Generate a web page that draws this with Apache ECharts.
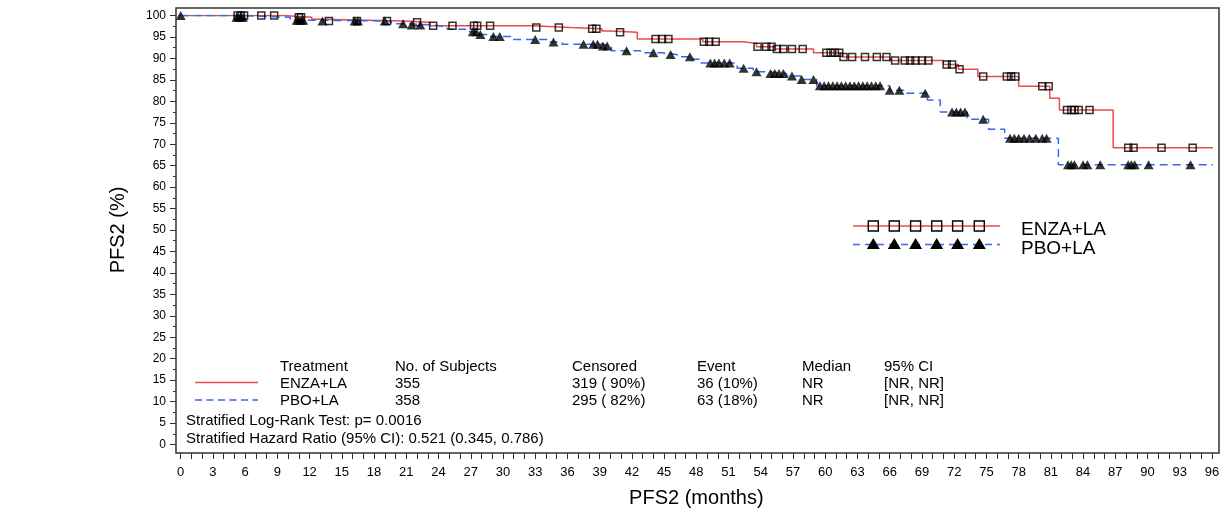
<!DOCTYPE html>
<html>
<head>
<meta charset="utf-8">
<script src="https://cdn.jsdelivr.net/npm/echarts@6/dist/echarts.min.js"></script>
<style>
html,body{margin:0;padding:0;background:#fff;}
#c{width:1226px;height:510px;}
</style>
</head>
<body>
<div id="c"></div>
<script>
// ---- data ----
var enzaTimes = [0, 9.5, 12.2, 13.0, 20.7, 23.2, 32.7, 36.3, 39.2, 40.0, 42.5, 48.6, 52.4, 53.6, 55.3, 58.9, 61.6, 66.0, 71.0, 72.4, 74.2, 78.0, 80.9, 81.8, 86.8, 96.3];
var enzaSurv  = [100, 99.6, 99.1, 98.7, 98.4, 97.6, 97.2, 96.9, 96.4, 96.1, 94.5, 93.9, 93.5, 92.7, 92.2, 91.3, 90.3, 89.5, 88.6, 87.5, 85.8, 83.5, 80.7, 78.0, 69.2, 69.2];
var enzaCensor = [5.3, 5.6, 5.9, 7.5, 8.7, 11.0, 11.2, 13.8, 16.4, 19.2, 22.0, 23.5, 25.3, 27.3, 27.6, 28.8, 33.1, 35.2, 38.3, 38.7, 40.9, 44.2, 44.8, 45.4, 48.7, 49.2, 49.8, 53.7, 54.5, 55.0, 55.5, 56.1, 56.9, 57.9, 60.1, 60.5, 60.9, 61.3, 61.7, 62.5, 63.7, 64.8, 65.7, 66.5, 67.4, 67.9, 68.4, 69.0, 69.6, 71.3, 71.8, 72.5, 74.7, 76.9, 77.3, 77.7, 80.2, 80.8, 82.5, 82.9, 83.2, 83.6, 84.6, 88.2, 88.7, 91.3, 94.2];

var pboTimes = [0, 5.0, 10.2, 12.6, 19.6, 20.9, 23.5, 24.8, 26.5, 27.6, 28.5, 30.7, 34.1, 35.5, 39.2, 40.1, 42.8, 44.8, 46.2, 47.7, 48.4, 51.8, 53.3, 54.6, 56.4, 57.7, 59.2, 66.0, 67.3, 69.5, 70.7, 73.2, 75.2, 76.7, 81.7, 96.3];
var pboSurv  = [100, 99.6, 98.9, 98.7, 98.1, 97.8, 97.4, 96.8, 96.2, 95.6, 95.1, 94.4, 93.8, 93.3, 92.9, 91.8, 91.3, 90.9, 90.4, 89.8, 88.9, 87.7, 86.9, 86.5, 85.9, 85.1, 83.6, 82.6, 81.9, 80.3, 77.5, 75.8, 73.5, 71.4, 65.2, 65.2];
var pboCensor = [0, 5.2, 5.4, 5.6, 5.8, 10.8, 11.0, 11.2, 11.4, 13.2, 16.2, 16.5, 19.0, 20.7, 21.5, 22.3, 27.2, 27.5, 27.9, 29.1, 29.7, 33.0, 34.7, 37.5, 38.4, 38.8, 39.3, 39.7, 41.5, 44.0, 45.6, 47.4, 49.3, 49.7, 50.1, 50.6, 51.1, 52.4, 53.6, 54.9, 55.3, 55.7, 56.1, 56.9, 57.8, 58.9, 59.5, 59.9, 60.3, 60.7, 61.1, 61.5, 61.9, 62.3, 62.7, 63.1, 63.5, 63.9, 64.3, 64.7, 65.1, 66.0, 66.9, 69.3, 71.8, 72.2, 72.6, 73.0, 74.7, 77.2, 77.6, 78.0, 78.5, 79.0, 79.6, 80.2, 80.6, 82.6, 82.9, 83.2, 84.0, 84.4, 85.6, 88.2, 88.5, 88.8, 90.1, 94.0];

var seriesNames = ['ENZA+LA', 'PBO+LA'];
var referenceLevel = 50;
var xTickLabelStep = 3;

var tableHeaders = ['Treatment', 'No. of Subjects', 'Censored', 'Event', 'Median', '95% CI'];
var tableRowEnza = ['ENZA+LA', '355', '319 ( 90%)', '36 (10%)', 'NR', '[NR, NR]'];
var tableRowPbo  = ['PBO+LA', '358', '295 ( 82%)', '63 (18%)', 'NR', '[NR, NR]'];
var statLines = ['Stratified Log-Rank Test: p= 0.0016', 'Stratified Hazard Ratio (95% CI): 0.521 (0.345, 0.786)'];

// ---- helpers ----
function survAt(times, surv, t) {
  var v = surv[0];
  for (var i = 0; i < times.length; i++) { if (times[i] <= t) v = surv[i]; }
  return v;
}
function pairs(a, b) { return a.map(function (x, i) { return [x, b[i]]; }); }
function censorPts(c, times, surv) { return c.map(function (t) { return [t, survAt(times, surv, t)]; }); }

var RED = '#EC4B4B', BLUE = '#3468F2';
var FONT = '"Liberation Sans", Arial, sans-serif';

// ---- layout (pixels) ----
var G = { left: 180.7, right: 1212, top: 15.5, bottom: 444.5 };
var graphics = [];
graphics.push({ type: 'rect', shape: { x: 176, y: 8, width: 1043, height: 445 }, style: { fill: 'none', stroke: '#333', lineWidth: 1.5 }, z: 50 });

// legend (inside plot)
var lgX = [873.3, 894.3, 915.6, 936.7, 957.6, 979.3];
graphics.push({ type: 'line', shape: { x1: 853, y1: 226, x2: 1000, y2: 226 }, style: { stroke: RED, lineWidth: 1.5 }, z: 60 });
graphics.push({ type: 'line', shape: { x1: 853, y1: 244.5, x2: 1000, y2: 244.5 }, style: { stroke: BLUE, lineWidth: 1.5, lineDash: [7, 5] }, z: 60 });
lgX.forEach(function (x) {
  graphics.push({ type: 'rect', shape: { x: x - 5, y: 221, width: 10, height: 10 }, style: { fill: 'none', stroke: '#000', lineWidth: 1.4 }, z: 61 });
  graphics.push({ type: 'polygon', shape: { points: [[x, 238], [x + 6.5, 249], [x - 6.5, 249]] }, style: { fill: '#000' }, z: 61 });
});
graphics.push({ type: 'text', style: { text: seriesNames[0], x: 1021, y: 229.5, font: '19px ' + FONT, fill: '#000', verticalAlign: 'middle' }, z: 61 });
graphics.push({ type: 'text', style: { text: seriesNames[1], x: 1021, y: 248.5, font: '19px ' + FONT, fill: '#000', verticalAlign: 'middle' }, z: 61 });

// table
var colX = [280, 395, 572, 697, 802, 884];
var rowY = [367, 384, 401];
[tableHeaders, tableRowEnza, tableRowPbo].forEach(function (row, r) {
  row.forEach(function (txt, c) {
    graphics.push({ type: 'text', style: { text: txt, x: colX[c], y: rowY[r], font: '15px ' + FONT, fill: '#000', verticalAlign: 'middle' }, z: 61 });
  });
});
graphics.push({ type: 'line', shape: { x1: 195, y1: 382.5, x2: 258, y2: 382.5 }, style: { stroke: RED, lineWidth: 1.5 }, z: 60 });
graphics.push({ type: 'line', shape: { x1: 195, y1: 400, x2: 258, y2: 400 }, style: { stroke: BLUE, lineWidth: 1.5, lineDash: [7, 4.5] }, z: 60 });
statLines.forEach(function (txt, i) {
  graphics.push({ type: 'text', style: { text: txt, x: 186, y: 421 + i * 17.5, font: '15px ' + FONT, fill: '#000', verticalAlign: 'middle' }, z: 61 });
});

var chart = echarts.init(document.getElementById('c'), null, { renderer: 'canvas' });
chart.setOption({
  animation: false,
  backgroundColor: '#fff',
  grid: { left: G.left, right: 1226 - G.right, top: G.top, bottom: 510 - G.bottom, containLabel: false, outerBoundsMode: 'none' },
  xAxis: {
    type: 'value', min: 0, max: 96, interval: 1, offset: 8.5,
    axisLine: { show: false, onZero: false },
    axisTick: { show: true, inside: false, length: 6, lineStyle: { color: '#333', width: 1 } },
    axisLabel: { fontSize: 13, fontFamily: FONT, color: '#000', margin: 13,
      formatter: function (v) { return (Math.round(v) % xTickLabelStep === 0) ? String(Math.round(v)) : ''; } },
    splitLine: { show: false },
    name: 'PFS2 (months)', nameLocation: 'middle', nameGap: 35,
    nameTextStyle: { fontSize: 20, fontFamily: FONT, color: '#000' }
  },
  yAxis: {
    type: 'value', min: 0, max: 100, interval: 5, offset: 4.7,
    axisLine: { show: false, onZero: false },
    axisTick: { show: true, inside: false, length: 6, lineStyle: { color: '#333', width: 1 } },
    minorTick: { show: true, splitNumber: 2, length: 3, lineStyle: { color: '#333', width: 1 } },
    axisLabel: { fontSize: 12, fontFamily: FONT, color: '#000', margin: 10 },
    splitLine: { show: false },
    name: 'PFS2 (%)', nameLocation: 'middle', nameGap: 48, nameRotate: 90,
    nameTextStyle: { fontSize: 20, fontFamily: FONT, color: '#000' }
  },
  series: [
    { name: seriesNames[0], type: 'line', step: 'end', data: pairs(enzaTimes, enzaSurv), showSymbol: false, symbol: 'none',
      lineStyle: { color: RED, width: 1.5 }, z: 3,
      markLine: { silent: true, symbol: 'none', label: { show: false },
        lineStyle: { color: '#808080', width: 1, type: [14, 5, 3, 5] },
        data: [[{ coord: [-0.4, referenceLevel] }, { coord: [96.6, referenceLevel] }]] } },
    { name: seriesNames[1], type: 'line', step: 'end', data: pairs(pboTimes, pboSurv), showSymbol: false, symbol: 'none',
      lineStyle: { color: BLUE, width: 1.5, type: [8, 5] }, z: 3 },
    { name: seriesNames[0] + ' censored', type: 'scatter', data: censorPts(enzaCensor, enzaTimes, enzaSurv),
      symbol: 'rect', symbolSize: [7, 7], itemStyle: { color: 'rgba(255,255,255,0)', borderColor: '#000', borderWidth: 1.5 }, z: 5 },
    { name: seriesNames[1] + ' censored', type: 'scatter', data: censorPts(pboCensor, pboTimes, pboSurv),
      symbol: 'triangle', symbolSize: [10, 9], itemStyle: { color: '#000' }, z: 5 }
  ],
  graphic: graphics
});
</script>
</body>
</html>
